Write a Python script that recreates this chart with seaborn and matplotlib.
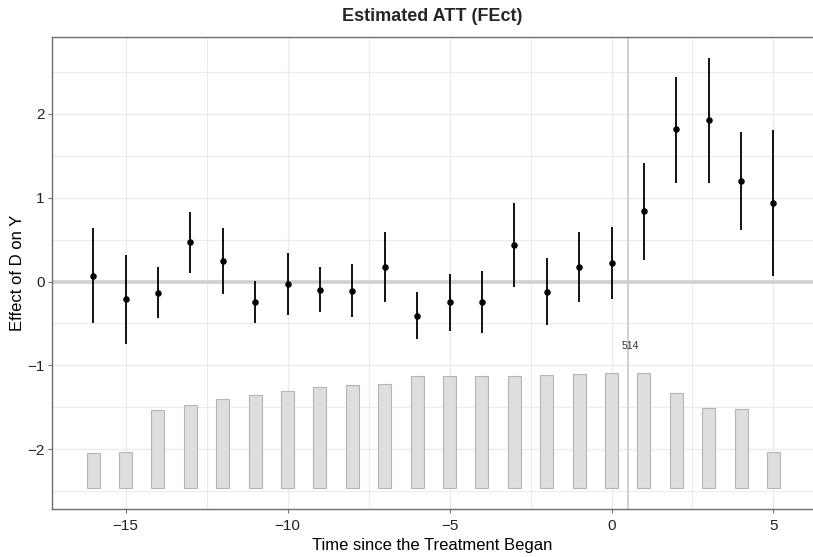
import matplotlib
matplotlib.use("Agg")
import matplotlib.pyplot as plt
import seaborn as sns
import numpy as np
import pandas as pd

# ---- data ----
periods = [-16, -15, -14, -13, -12, -11, -10, -9, -8, -7, -6, -5, -4, -3, -2, -1, 0, 1, 2, 3, 4, 5]
att = [0.072, -0.210, -0.135, 0.466, 0.243, -0.246, -0.031, -0.095, -0.107, 0.175, -0.405,
       -0.246, -0.238, 0.442, -0.119, 0.175, 0.223, 0.840, 1.814, 1.921, 1.198, 0.939]
ci_upper = [0.637, 0.319, 0.172, 0.828, 0.637, 0.004, 0.339, 0.175, 0.211, 0.593, -0.123,
            0.092, 0.128, 0.939, 0.279, 0.597, 0.649, 1.416, 2.443, 2.666, 1.783, 1.807]
ci_lower = [-0.497, -0.747, -0.437, 0.108, -0.151, -0.497, -0.394, -0.366, -0.425, -0.242, -0.688,
            -0.585, -0.608, -0.059, -0.520, -0.246, -0.203, 0.259, 1.181, 1.174, 0.609, 0.068]
counts = [156, 161, 349, 371, 398, 416, 435, 452, 463, 466, 502, 502, 502, 502, 507, 511, 514, 514,
          425, 358, 353, 164]
max_label = "514"

df = pd.DataFrame({"period": periods, "att": att, "lo": ci_lower, "hi": ci_upper, "count": counts})

sns.set_theme(style="white")
plt.rcParams["font.family"] = ["Liberation Sans", "DejaVu Sans"]

fig = plt.figure(figsize=(8.13, 5.57), dpi=100)
ax = fig.add_axes([0.0636, 0.0856, 0.9364, 0.8485])

# count bars at the bottom
bar_base = -2.466
bar_span = 1.373
heights = df["count"] / df["count"].max() * bar_span
ax.bar(df["period"], heights, bottom=bar_base, width=0.4, color="#DEDEDE",
       edgecolor="#B5B5B5", linewidth=0.8, zorder=2)
ax.text(0.57, -0.764, max_label, fontsize=7.5, ha="center", va="center", color="#333333", zorder=3)

# reference lines
ax.axhline(0, color="#D0D0D0", linewidth=2.6, zorder=1)
ax.axvline(0.5, color="#D0D0D0", linewidth=1.4, zorder=1)

# CIs and points
ax.vlines(df["period"], df["lo"], df["hi"], color="black", linewidth=1.3, zorder=4)
sns.scatterplot(data=df, x="period", y="att", ax=ax, color="black", s=22, edgecolor="black",
                linewidth=0, zorder=5)

ax.set_xlim(-17.28, 6.22)
ax.set_ylim(-2.716, 2.92)
ax.set_xticks([-15, -10, -5, 0, 5])
ax.set_xticklabels(["\u221215", "\u221210", "\u22125", "0", "5"])
ax.set_yticks([-2, -1, 0, 1, 2])
ax.set_yticklabels(["\u22122", "\u22121", "0", "1", "2"])
ax.set_xticks([-12.5, -7.5, -2.5, 2.5], minor=True)
ax.set_yticks([-2.5, -1.5, -0.5, 0.5, 1.5, 2.5], minor=True)
ax.grid(True, which="major", color="#EBEBEB", linewidth=1.0, zorder=0)
ax.grid(True, which="minor", color="#EBEBEB", linewidth=0.8, zorder=0)
ax.set_axisbelow(True)

for side in ["left", "bottom", "top"]:
    ax.spines[side].set_visible(True)
    ax.spines[side].set_color("#6E6E6E")
    ax.spines[side].set_linewidth(1.0)
ax.spines["right"].set_visible(False)

ax.tick_params(axis="both", which="major", length=3, width=0.8, color="#6E6E6E",
               labelsize=11, labelcolor="#222222", left=True, bottom=True)
ax.tick_params(axis="x", which="major", pad=4)
ax.tick_params(axis="y", which="major", pad=2)
ax.tick_params(axis="both", which="minor", length=0)

ax.set_xlabel("Time since the Treatment Began", fontsize=12, color="black", labelpad=3.5)
ax.set_ylabel("Effect of D on Y", fontsize=12, color="black", labelpad=2)
ax.set_title("Estimated ATT (FEct)", fontsize=13, fontweight="bold", pad=11)

fig.savefig("out.png", dpi=100)
